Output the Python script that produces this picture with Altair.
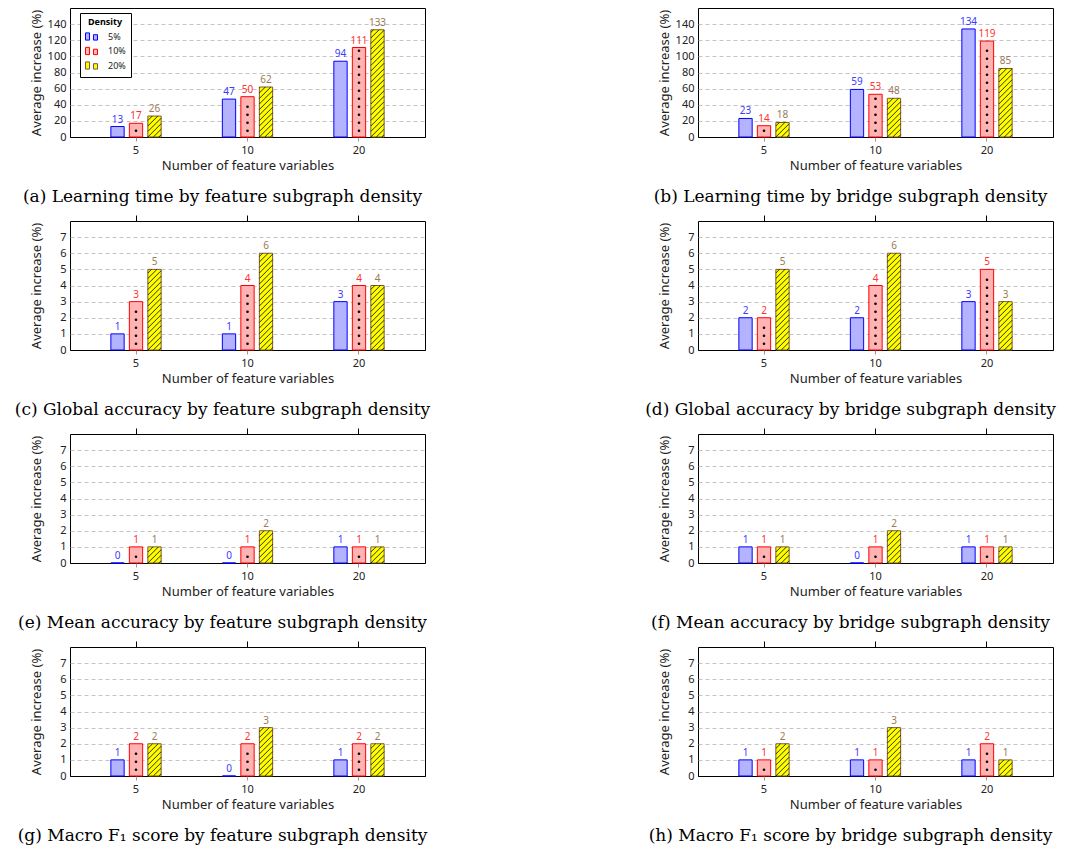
import math
import altair as alt
import pandas as pd

# ---------------- data ----------------
categories = ["5", "10", "20"]
densities = ["5%", "10%", "20%"]

captions = [
    "(a) Learning time by feature subgraph density",
    "(b) Learning time by bridge subgraph density",
    "(c) Global accuracy by feature subgraph density",
    "(d) Global accuracy by bridge subgraph density",
    "(e) Mean accuracy by feature subgraph density",
    "(f) Mean accuracy by bridge subgraph density",
    "(g) Macro F\u2081 score by feature subgraph density",
    "(h) Macro F\u2081 score by bridge subgraph density",
]

# values per panel: [5%, 10%, 20%] each over categories 5, 10, 20
learn_feat_5 = [13, 47, 94]
learn_feat_10 = [17, 50, 111]
learn_feat_20 = [26, 62, 133]

learn_bridge_5 = [23, 59, 134]
learn_bridge_10 = [14, 53, 119]
learn_bridge_20 = [18, 48, 85]

glob_feat_5 = [1, 1, 3]
glob_feat_10 = [3, 4, 4]
glob_feat_20 = [5, 6, 4]

glob_bridge_5 = [2, 2, 3]
glob_bridge_10 = [2, 4, 5]
glob_bridge_20 = [5, 6, 3]

mean_feat_5 = [0, 0, 1]
mean_feat_10 = [1, 1, 1]
mean_feat_20 = [1, 2, 1]

mean_bridge_5 = [1, 0, 1]
mean_bridge_10 = [1, 1, 1]
mean_bridge_20 = [1, 2, 1]

f1_feat_5 = [1, 0, 1]
f1_feat_10 = [2, 2, 2]
f1_feat_20 = [2, 3, 2]

f1_bridge_5 = [1, 1, 1]
f1_bridge_10 = [1, 1, 2]
f1_bridge_20 = [2, 3, 1]

panel_values = [
    [learn_feat_5, learn_feat_10, learn_feat_20],
    [learn_bridge_5, learn_bridge_10, learn_bridge_20],
    [glob_feat_5, glob_feat_10, glob_feat_20],
    [glob_bridge_5, glob_bridge_10, glob_bridge_20],
    [mean_feat_5, mean_feat_10, mean_feat_20],
    [mean_bridge_5, mean_bridge_10, mean_bridge_20],
    [f1_feat_5, f1_feat_10, f1_feat_20],
    [f1_bridge_5, f1_bridge_10, f1_bridge_20],
]

y_max = [160, 160, 8, 8, 8, 8, 8, 8]
y_ticks_large = [0, 20, 40, 60, 80, 100, 120, 140]
y_ticks_small = [0, 1, 2, 3, 4, 5, 6, 7]

# ---------------- style ----------------
W, H = 355, 129
X_PAD_INNER, X_PAD_OUTER = 0.549, 0.3665
XO_PAD_INNER = 0.281
step = W / (3 - X_PAD_INNER + 2 * X_PAD_OUTER)
bandw = step * (1 - X_PAD_INNER)
bar_w = bandw / (3 - XO_PAD_INNER) * (1 - XO_PAD_INNER)

fills = ["#b3b3ff", "#ffb3b3", "#ffff00"]
strokes = ["#0000ff", "#ff0000", "#7d5a32"]
label_colors = ["#3b3bff", "#ff3030", "#9a7a58"]

SANS = "Noto Sans"
SERIF = "DejaVu Serif"

DOT_STEP = 8.0
DOT_START = 6.3
HATCH_P = 5.5


def hatch_path(hpx, w, p):
    half = w / 2.0
    segs = []
    kmin = math.ceil(-w / p)
    kmax = math.floor(hpx / p)
    for k in range(kmin, kmax + 1):
        d = k * p
        u0 = max(0.0, -d)
        u1 = min(w, hpx - d)
        if u1 - u0 > 0.4:
            v0, v1 = u0 + d, u1 + d
            x0, y0 = (u0 - half) / half, (hpx / 2 - v0) / half
            x1, y1 = (u1 - half) / half, (hpx / 2 - v1) / half
            segs.append(f"M{x0:.3f},{y0:.3f}L{x1:.3f},{y1:.3f}")
    return "".join(segs) if segs else "M0,0"


legend_def = alt.Legend(
    orient="none", legendX=10, legendY=5, title="Density",
    titleFontSize=9, titleFont=SANS, titleFontWeight="bold", titleAnchor="middle",
    titlePadding=3,
    labelFontSize=9, labelFont=SANS, labelColor="#222",
    symbolType="M-1,-0.6H-0.33V0.6H-1Z M0.33,-0.3H1V0.6H0.33Z",
    symbolSize=144, symbolStrokeWidth=1, symbolOpacity=1,
    strokeColor="black", fillColor="white", padding=5, rowPadding=1.5,
    labelOffset=10,
)


def make_panel(idx):
    vals = panel_values[idx]
    ymax = y_max[idx]
    ticks = y_ticks_large if ymax > 10 else y_ticks_small
    ppu = H / ymax
    rows, dots, hatch = [], [], []
    for di, d in enumerate(densities):
        for ci, c in enumerate(categories):
            v = vals[di][ci]
            rows.append({"cat": c, "dens": d, "value": v})
            top = v * ppu
            if di == 1:
                k = 0
                while DOT_START + k * DOT_STEP <= top - 2.5:
                    dots.append({"cat": c, "dens": d,
                                 "y": (DOT_START + k * DOT_STEP) / ppu})
                    k += 1
            if di == 2 and v > 0:
                hatch.append({"cat": c, "dens": d, "y": v / 2.0,
                              "path": hatch_path(top, bar_w, HATCH_P)})
    df = pd.DataFrame(rows)
    ddf = pd.DataFrame(dots if dots else [{"cat": "5", "dens": "10%", "y": -10}])
    hdf = pd.DataFrame(hatch)

    xscale = alt.Scale(type="band", domain=categories,
                       paddingInner=X_PAD_INNER, paddingOuter=X_PAD_OUTER)
    xoscale = alt.Scale(type="band", domain=densities,
                        paddingInner=XO_PAD_INNER, paddingOuter=0)
    yscale = alt.Scale(domain=[0, ymax], nice=False, zero=True)

    xo = alt.XOffset("dens:N", scale=xoscale, sort=densities)

    y_axis = alt.Axis(values=ticks, tickCount=12, format="d", grid=True,
                      gridDash=alt.condition("datum.value == 0",
                                             alt.value([]), alt.value([4, 3])),
                      gridColor=alt.condition("datum.value == 0",
                                              alt.value("black"), alt.value("#b5b5b5")),
                      gridWidth=alt.condition("datum.value == 0",
                                              alt.value(1.2), alt.value(0.8)),
                      ticks=False, labelOverlap=False, labelFlush=False,
                      domain=False, labelPadding=4, labelFontSize=11,
                      titleFontSize=13, titleX=-34, titleY=H / 2,
                      titleBaseline="middle")

    leg = legend_def if idx == 0 else None

    bars = alt.Chart(df).mark_bar(strokeWidth=1, opacity=1).encode(
        x=alt.X("cat:N", scale=xscale, sort=categories,
                title="Number of feature variables",
                axis=alt.Axis(orient="bottom", labelAngle=0, ticks=True,
                              tickSize=4, tickColor="#999", domain=False,
                              grid=False, labelPadding=3, titlePadding=4,
                              labelFontSize=11, titleFontSize=13)),
        xOffset=xo,
        y=alt.Y("value:Q", scale=yscale, title="Average increase (%)", axis=y_axis),
        fill=alt.Fill("dens:N", sort=densities,
                      scale=alt.Scale(domain=densities, range=fills), legend=leg),
        stroke=alt.Stroke("dens:N", sort=densities,
                          scale=alt.Scale(domain=densities, range=strokes), legend=leg),
    )

    dot_layer = alt.Chart(ddf).mark_point(
        filled=True, shape="circle", size=7, color="black", opacity=1
    ).encode(
        x=alt.X("cat:N", scale=xscale, sort=categories, axis=None),
        xOffset=xo,
        y=alt.Y("y:Q", scale=yscale, title="Average increase (%)", axis=y_axis),
    )

    hatch_layer = alt.Chart(hdf).mark_point(
        filled=False, size=bar_w * bar_w, color="black", strokeWidth=0.8, opacity=1
    ).encode(
        x=alt.X("cat:N", scale=xscale, sort=categories, axis=None),
        xOffset=xo,
        y=alt.Y("y:Q", scale=yscale, title="Average increase (%)", axis=y_axis),
        shape=alt.Shape("path:N", scale=None),
    )

    labels = alt.Chart(df).mark_text(
        baseline="bottom", dy=-2, fontSize=10, font=SANS
    ).encode(
        x=alt.X("cat:N", scale=xscale, sort=categories, title=None,
                axis=alt.Axis(orient="top", labels=False, ticks=True, tickSize=6,
                              tickColor="black", domain=False, grid=False,
                              title=None)),
        xOffset=xo,
        y=alt.Y("value:Q", scale=yscale, title="Average increase (%)", axis=y_axis),
        text=alt.Text("value:Q"),
        color=alt.Color("dens:N", sort=densities,
                        scale=alt.Scale(domain=densities, range=label_colors),
                        legend=None),
    )

    return alt.layer(bars, hatch_layer, dot_layer, labels).resolve_axis(
        x="independent"
    ).properties(
        width=W, height=H,
        title=alt.TitleParams(text=captions[idx], orient="bottom", font=SERIF,
                              fontSize=17, fontWeight="normal", color="black",
                              frame="group", anchor="middle", dx=-25, offset=17),
    )


chart = alt.concat(
    *[make_panel(i) for i in range(8)], columns=2, spacing={"row": 84, "column": 273},
    bounds="flush",
).properties(
    padding={"left": 6, "top": -7, "right": 0, "bottom": 0},
).configure_view(
    stroke="black", strokeWidth=1
).configure_axis(
    labelFont=SANS, titleFont=SANS, labelColor="#222", titleColor="#222",
    titleFontWeight="normal",
)

chart.save("out.html", embed_options={"renderer": "svg", "actions": False})
